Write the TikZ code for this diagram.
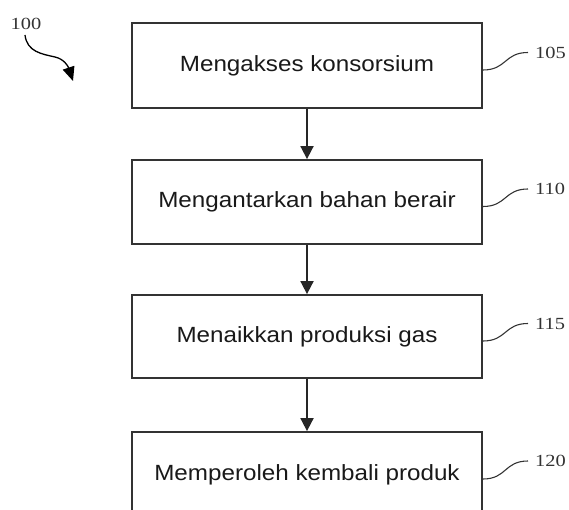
\documentclass[tikz,border=0pt]{standalone}
\usepackage{fontspec}
\usetikzlibrary{arrows.meta}
\newfontfamily\boxfont{Liberation Sans}[FakeStretch=1.1]
\newfontfamily\numfont{Liberation Serif}[FakeStretch=1.2]
\begin{document}
\begin{tikzpicture}[x=1pt,y=-1pt,
  stepbox/.style={draw=black!80,line width=1.8pt,minimum width=350pt,inner sep=0pt,
    font=\boxfont\fontsize{22}{26}\selectfont,text=black!90},
  flow/.style={line width=1.8pt,draw=black!85,-{Triangle[length=13pt,width=13pt]}},
  reflabel/.style={font=\numfont\fontsize{17}{20}\selectfont,inner sep=0pt,anchor=west,text=black!80},
  leader/.style={line width=1.1pt,draw=black!80}]
\useasboundingbox (0,0) rectangle (569,510);
\clip (0,0) rectangle (569,510);
\node[stepbox,minimum height=85pt] (b1) at (307,65.5) {Mengakses konsorsium};
\node[stepbox,minimum height=84pt] (b2) at (307,202) {Mengantarkan bahan berair};
\node[stepbox,minimum height=83pt] (b3) at (307,336.5) {Menaikkan produksi gas};
\node[stepbox,minimum height=85pt] (b4) at (307,474.5) {Memperoleh kembali produk};
\draw[flow] (b1) -- (b2);
\draw[flow] (b2) -- (b3);
\draw[flow] (b3) -- (b4);
\node[reflabel] (l1) at (535,52.5) {105};
\node[reflabel] (l2) at (535,189) {110};
\node[reflabel] (l3) at (535,323.5) {115};
\node[reflabel] (l4) at (535,461) {120};
\foreach \i in {1,2,3,4}{
  \draw[leader] (b\i.east) ++(0,4.5) .. controls +(24,0) and +(-24,0) .. ([xshift=-7pt]l\i.west);
}
\node[font=\numfont\fontsize{17}{20}\selectfont,inner sep=0pt,text=black!80] (n100) at (26,24) {100};
\coordinate (t100) at (73,81);
\draw[line width=1.3pt,-{Triangle[length=14pt,width=12pt]}] (25,35) .. controls (27,52) and (42,54) .. (55,57) .. controls (64,59) and (68,66) .. (t100);
\end{tikzpicture}
\end{document}
